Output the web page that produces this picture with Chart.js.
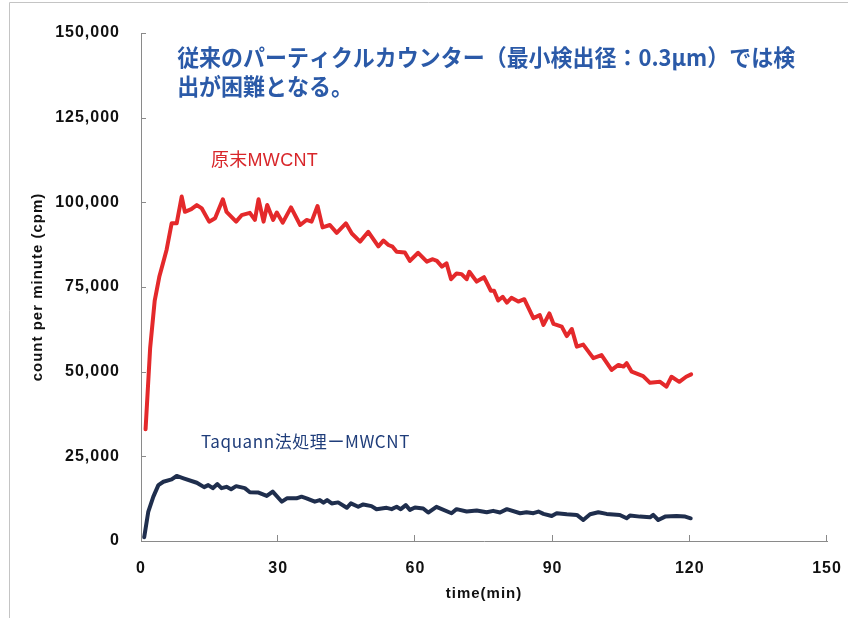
<!DOCTYPE html>
<html>
<head>
<meta charset="utf-8">
<script src="https://cdn.jsdelivr.net/npm/chart.js@4/dist/chart.umd.min.js"></script>
<style>
  html, body { margin: 0; padding: 0; background: #ffffff; }
  canvas { display: block; }
</style>
</head>
<body>
<canvas id="chart" width="848" height="618"></canvas>
<script>
// Untreated (raw) MWCNT: sampling time (min) and counts per minute
const rawTimes = [1, 2, 3, 4, 5, 5.6, 6.7, 7.8, 8.9, 9.6, 11, 12.2, 13.3, 14.9, 16.2, 17.9, 18.7, 20.8, 22, 23.8,
  24.9, 25.7, 26.8, 27.6, 28.9, 29.7, 31, 32.8, 34.8, 36.2, 37.3, 38.6, 39.7, 41.3, 42.8, 44.8, 46.1, 47.9, 49.7, 51.9,
  53, 54.1, 55, 55.9, 57.7, 58.8, 60.6, 62.5, 63.8, 64.7, 65.8, 66.8, 67.8, 69, 70.1, 71.2, 71.8, 73.4, 75, 76.5,
  77.2, 78.1, 79.1, 80, 81, 82.5, 83.8, 85.8, 87.2, 88, 89.3, 90.2, 92, 93.1, 94.2, 95.3, 96.7, 98.9, 100.7, 102.9,
  104.4, 105.5, 106.2, 107.3, 109.8, 111.3, 113.5, 114.9, 116, 117.7, 119.2, 120.3];
const rawCounts = [33000, 57000, 71000, 78000, 83000, 86000, 93800, 93800, 101700, 97200, 98000, 99200, 98200, 94300, 95300, 100900, 97200, 94300, 96200, 96900,
  94800, 100900, 94300, 99200, 94800, 97000, 94000, 98500, 93300, 94800, 94300, 98900, 92600, 93300, 91000, 93800, 90800, 88400, 91300, 87000,
  88700, 87400, 86900, 85400, 85200, 82700, 85100, 82500, 83200, 82700, 81000, 82000, 77300, 79000, 78800, 77300, 79500, 76600, 77900, 73900,
  73900, 71000, 72100, 70400, 71800, 70700, 71400, 65800, 66700, 63800, 67200, 64100, 63300, 60500, 62600, 57400, 58000, 54000, 54900, 50500,
  52000, 51500, 52500, 50000, 48700, 46700, 47000, 45600, 48500, 47000, 48500, 49200];

// Taquann-treated MWCNT: sampling time (min) and counts per minute
const taqTimes = [0.7, 1.6, 2.7, 3.8, 4.9, 6.7, 7.8, 9.3, 12.2, 13.8, 14.7, 15.7, 16.7, 17.6, 18.7, 19.7, 20.8, 22.7, 23.8, 25.7,
  27.5, 28.8, 30.8, 31.9, 34, 35.1, 36.2, 38, 39.1, 39.9, 40.7, 41.7, 43.1, 45, 45.9, 47.5, 48.6, 50.4, 51.5, 53.7,
  54.8, 55.9, 56.8, 57.9, 58.8, 59.9, 61.7, 62.8, 64.6, 67.9, 69, 71.2, 73.4, 75.6, 77, 78.5, 80, 82.9, 84.3, 85.8,
  86.9, 88, 89.8, 90.9, 93.1, 95.3, 96.7, 98.2, 100, 101.8, 104.7, 106.2, 106.9, 109.1, 111.3, 112, 113.1, 114.6, 117.1, 119,
  120.2];
const taqCounts = [1100, 8700, 13100, 16500, 17500, 18200, 19200, 18500, 17200, 15900, 16500, 15600, 16800, 15600, 16000, 15300, 16200, 15600, 14400, 14300,
  13300, 14600, 11600, 12600, 12600, 13100, 12600, 11600, 12100, 11300, 12100, 11100, 11400, 9800, 11100, 10100, 10800, 10300, 9400, 9800,
  9400, 10100, 9400, 10600, 9200, 9900, 9600, 8400, 10100, 8200, 9400, 8700, 9000, 8500, 8900, 8400, 9400, 8200, 8500, 8200,
  8700, 8000, 7400, 8200, 7900, 7700, 6200, 7900, 8500, 8000, 7700, 6700, 7500, 7200, 7000, 7700, 6200, 7200, 7400, 7200,
  6700];

// Axis ticks
const xTickValues = [0, 30, 60, 90, 120, 150];
const yTickValues = [0, 25000, 50000, 75000, 100000, 125000, 150000];

// Text
const seriesNames = ['原末MWCNT', 'Taquann法処理ーMWCNT'];
const noteLines = ['従来のパーティクルカウンター（最小検出径：0.3μm）では検', '出が困難となる。'];
const xTitle = 'time(min)';
const yTitle = 'count per minute (cpm)';

const toPoints = (xs, ys) => xs.map((x, i) => ({ x, y: ys[i] }));

const AXIS_GREY = '#8a8a8a';
const TICK_FONT = { family: '"Liberation Sans", Arial, sans-serif', size: 16, weight: 'bold' };
const TITLE_FONT = { family: '"Liberation Sans", Arial, sans-serif', size: 15, weight: 'bold' };

// Wider letter spacing for axis text, outer frame, inward tick marks and annotations
const decorations = {
  id: 'decorations',
  beforeDraw(chart) {
    const ctx = chart.ctx;
    ctx.letterSpacing = '1px';
    ctx.save();
    ctx.strokeStyle = '#c4c4c4';
    ctx.lineWidth = 1;
    ctx.beginPath();
    ctx.moveTo(9.5, 618);
    ctx.lineTo(9.5, 2.5);
    ctx.lineTo(848, 2.5);
    ctx.stroke();
    ctx.restore();
  },
  afterDraw(chart) {
    const { ctx, scales: { x, y }, chartArea } = chart;
    ctx.save();
    // inward tick marks
    ctx.strokeStyle = AXIS_GREY;
    ctx.lineWidth = 1;
    ctx.beginPath();
    xTickValues.forEach(v => {
      if (v === 0) return;
      const px = Math.round(x.getPixelForValue(v)) - 0.5;
      ctx.moveTo(px, chartArea.bottom);
      ctx.lineTo(px, chartArea.bottom - 6);
    });
    yTickValues.forEach(v => {
      if (v === 0) return;
      const py = Math.round(y.getPixelForValue(v)) + 0.5;
      ctx.moveTo(chartArea.left, py);
      ctx.lineTo(chartArea.left + 5, py);
    });
    ctx.stroke();

    // annotation text
    ctx.textBaseline = 'middle';
    ctx.textAlign = 'left';
    ctx.letterSpacing = '0px';
    ctx.fillStyle = '#2b5aa8';
    ctx.font = 'bold 23px "Noto Sans CJK JP", sans-serif';
    const nx = x.getPixelForValue(7.9);
    const sx = Math.min(1, 618 / ctx.measureText(noteLines[0]).width);
    ctx.save();
    ctx.translate(nx, 0);
    ctx.scale(sx, 1);
    ctx.fillText(noteLines[0], 0, y.getPixelForValue(142900));
    ctx.fillText(noteLines[1], 0, y.getPixelForValue(134200));
    ctx.restore();

    ctx.fillStyle = '#d8262a';
    ctx.letterSpacing = '0.3px';
    ctx.font = '18px "Liberation Sans", "Noto Sans CJK JP", sans-serif';
    ctx.fillText(seriesNames[0], x.getPixelForValue(15.3), y.getPixelForValue(112200));

    ctx.fillStyle = '#1f3d7a';
    ctx.letterSpacing = '0.6px';
    ctx.font = '17px "Noto Sans CJK JP", sans-serif';
    ctx.fillText(seriesNames[1], x.getPixelForValue(13.1), y.getPixelForValue(29500));
    ctx.restore();
  }
};

new Chart(document.getElementById('chart'), {
  type: 'line',
  data: {
    datasets: [
      {
        label: seriesNames[0],
        data: toPoints(rawTimes, rawCounts),
        borderColor: '#e4292b',
        borderWidth: 4,
        pointRadius: 0,
        tension: 0,
        borderJoinStyle: 'round',
        borderCapStyle: 'round',
        fill: false
      },
      {
        label: seriesNames[1],
        data: toPoints(taqTimes, taqCounts),
        borderColor: '#1f2e4d',
        borderWidth: 4,
        pointRadius: 0,
        tension: 0,
        borderJoinStyle: 'round',
        borderCapStyle: 'round',
        fill: false
      }
    ]
  },
  options: {
    responsive: false,
    animation: false,
    devicePixelRatio: 1,
    layout: { padding: { left: 0, top: 33, right: 21, bottom: 0 } },
    plugins: { legend: { display: false }, tooltip: { enabled: false } },
    scales: {
      x: {
        type: 'linear',
        min: 0,
        max: 150,
        afterFit: s => { s.height = 77; s.paddingLeft = 0; s.paddingRight = 0; },
        afterBuildTicks: s => { s.ticks = xTickValues.map(v => ({ value: v })); },
        grid: { display: false, drawTicks: false },
        border: { display: true, color: AXIS_GREY, width: 1 },
        ticks: { color: '#111', font: TICK_FONT, padding: 18, maxRotation: 0 },
        title: { display: true, text: xTitle, color: '#111', font: TITLE_FONT, padding: { top: 0, bottom: 15 } }
      },
      y: {
        type: 'linear',
        min: 0,
        max: 150000,
        afterFit: s => { s.width = 141; s.paddingTop = 0; s.paddingBottom = 0; },
        afterBuildTicks: s => { s.ticks = yTickValues.map(v => ({ value: v })); },
        grid: { display: false, drawTicks: false },
        border: { display: true, color: AXIS_GREY, width: 1 },
        ticks: {
          color: '#111',
          font: TICK_FONT,
          padding: 21,
          callback: v => v.toLocaleString('en-US')
        },
        title: { display: true, text: yTitle, color: '#111', font: TITLE_FONT, padding: { top: 29, bottom: 0 } }
      }
    }
  },
  plugins: [decorations]
});
</script>
</body>
</html>
